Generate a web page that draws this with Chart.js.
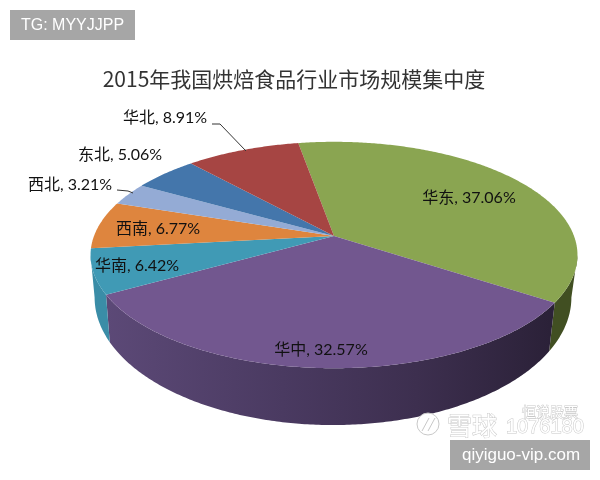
<!DOCTYPE html>
<html lang="zh">
<head>
    <meta charset="UTF-8">
    <title>2015年我国烘焙食品行业市场规模集中度</title>
    <script src="https://cdn.jsdelivr.net/npm/chart.js"></script>
    <style>
        html, body { margin: 0; padding: 0; background: #fff; }
        canvas { display: block; }
    </style>
</head>
<body>
    <canvas id="pieChart" width="600" height="480"></canvas>

    <script>
    const regions = ['华东', '华中', '华南', '西南', '西北', '东北', '华北'];
    const shares = [37.06, 32.57, 6.42, 6.77, 3.21, 5.06, 8.91];
    const topColors = ['#8aa551', '#72578f', '#409ab5', '#de853e', '#94abd5', '#4476ab', '#a64543'];
    const wallColors = ['#414f22', '#4a3a60', '#3a8da7', '#b96a2c', '#7c90b6', '#365f8c', '#863432'];

    // centre of each label, and the two leader lines (label end, then slice end)
    const labelCentres = [[469, 198], [321, 350], [137, 266], [158, 229], [70, 185], [120, 155], [165, 118]];
    const leaders = [
        [[212, 124], [220, 124], [246, 151]],
        [[117, 190], [128, 191], [133, 193]]
    ];

    // Tilted disc: perspective projection of the unit circle, top face and base
    const tilt = 0.168;
    const topFace = { x: 334, y: 236, sx: 240, sy: 110 };
    const baseFace = { x: 333, y: 276, sx: 235, sy: 124 };

    function rimPoint(face, angle) {
        const u = Math.cos(angle), v = Math.sin(angle);
        const d = 1 - tilt * v;
        return [face.x + face.sx * u / d, face.y + face.sy * v / d];
    }

    function traceRim(ctx, face, from, to) {
        const steps = Math.max(2, Math.ceil(Math.abs(to - from) / 0.01));
        for (let i = 0; i <= steps; i++) {
            const p = rimPoint(face, from + (to - from) * i / steps);
            ctx.lineTo(p[0], p[1]);
        }
    }

    const solidPie = {
        id: 'solidPie',
        beforeDatasetDraw(chart) {
            const ctx = chart.ctx;
            const arcs = chart.getDatasetMeta(0).data;
            // only the part of the wall facing the viewer shows
            const limit = Math.asin(tilt);
            const wallFrom = limit, wallTo = Math.PI - limit;

            arcs.forEach((arc, i) => {
                const a = arc.getProps(['startAngle', 'endAngle'], true);
                const from = Math.max(a.startAngle, wallFrom);
                const to = Math.min(a.endAngle, wallTo);
                if (to <= from) return;
                ctx.beginPath();
                traceRim(ctx, topFace, from, to);
                traceRim(ctx, baseFace, to, from);
                ctx.closePath();
                if (i === 1) {
                    const g = ctx.createLinearGradient(105, 0, 550, 0);
                    g.addColorStop(0, '#5c4977');
                    g.addColorStop(0.4, '#4a3a61');
                    g.addColorStop(0.7, '#3d2f4f');
                    g.addColorStop(1, '#2b2138');
                    ctx.fillStyle = g;
                } else {
                    ctx.fillStyle = wallColors[i];
                }
                ctx.fill();
            });

            arcs.forEach((arc, i) => {
                const a = arc.getProps(['startAngle', 'endAngle'], true);
                ctx.beginPath();
                ctx.moveTo(topFace.x, topFace.y);
                traceRim(ctx, topFace, a.startAngle, a.endAngle);
                ctx.closePath();
                ctx.fillStyle = topColors[i];
                ctx.fill();
            });
            return false;
        },
        afterDatasetsDraw(chart) {
            const ctx = chart.ctx;
            ctx.save();
            ctx.strokeStyle = '#333';
            ctx.lineWidth = 1;
            leaders.forEach(line => {
                ctx.beginPath();
                line.forEach(p => ctx.lineTo(p[0], p[1]));
                ctx.stroke();
            });

            ctx.fillStyle = '#111';
            ctx.font = "16px Lato, 'Noto Sans CJK SC'";
            ctx.textAlign = 'center';
            ctx.textBaseline = 'middle';
            regions.forEach((name, i) => {
                const text = name + ', ' + shares[i].toFixed(2) + '%';
                ctx.fillText(text, labelCentres[i][0], labelCentres[i][1]);
            });
            ctx.restore();
        },
        afterDraw(chart) {
            const ctx = chart.ctx;
            ctx.save();
            ctx.textBaseline = 'middle';

            // site watermark, white with a faint outline
            ctx.strokeStyle = '#c8c8c8';
            ctx.fillStyle = '#fff';
            ctx.lineWidth = 1;
            ctx.beginPath();
            ctx.arc(428, 424, 11, 0, Math.PI * 2);
            ctx.fill();
            ctx.stroke();
            ctx.beginPath();
            ctx.moveTo(422, 431);
            ctx.lineTo(429, 418);
            ctx.moveTo(428, 431);
            ctx.lineTo(435, 418);
            ctx.stroke();
            ctx.textAlign = 'left';
            ctx.font = "25px 'Noto Sans CJK SC'";
            ctx.strokeText('雪球', 447, 425);
            ctx.fillText('雪球', 447, 425);
            ctx.font = "14px 'Noto Sans CJK SC'";
            ctx.strokeText('恒说股票', 522, 412);
            ctx.fillText('恒说股票', 522, 412);
            ctx.font = "20px 'Liberation Sans'";
            ctx.strokeText('1076180', 506, 427);
            ctx.fillText('1076180', 506, 427);

            // the two grey tags
            ctx.fillStyle = '#a6a6a6';
            ctx.fillRect(10, 10, 125, 30);
            ctx.fillRect(450, 440, 140, 30);
            ctx.fillStyle = '#fff';
            ctx.textAlign = 'center';
            ctx.font = "16px 'Liberation Sans'";
            ctx.fillText('TG: MYYJJPP', 72.5, 25.5);
            ctx.font = "17px 'Liberation Sans'";
            ctx.fillText('qiyiguo-vip.com', 521, 455);
            ctx.restore();
        }
    };

    new Chart(document.getElementById('pieChart'), {
        type: 'pie',
        data: {
            labels: regions,
            datasets: [{ data: shares, backgroundColor: topColors, borderWidth: 0 }]
        },
        options: {
            responsive: false,
            animation: false,
            rotation: -10,
            radius: 100,
            layout: { padding: { right: 12 } },
            plugins: {
                legend: { display: false },
                tooltip: { enabled: false },
                title: {
                    display: true,
                    text: '2015年我国烘焙食品行业市场规模集中度',
                    color: '#333',
                    font: { family: "'Noto Sans CJK SC'", size: 21, weight: 'normal' },
                    padding: { top: 66, bottom: 10 }
                }
            }
        },
        plugins: [solidPie]
    });
    </script>
</body>
</html>
